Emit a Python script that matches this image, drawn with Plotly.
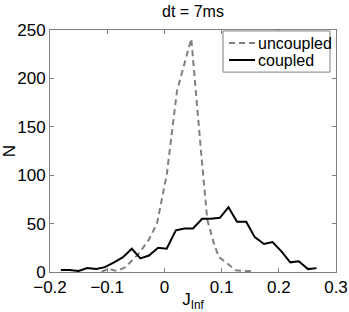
import plotly.graph_objects as go

# Data
series_names = ["uncoupled", "coupled"]

uncoupled_x = [-0.110, -0.098, -0.083, -0.068, -0.045, -0.0275, -0.013, 0.004, 0.022,
               0.047, 0.065, 0.075, 0.0865, 0.095, 0.110, 0.1245, 0.142, 0.154]
uncoupled_n = [0, 3.5, 1, 5, 19, 33, 50, 100, 187, 241, 118, 54, 29.5, 15.6, 8.7, 1.8, 1, 1]

coupled_x = [-0.181, -0.166, -0.150, -0.135, -0.119, -0.104, -0.088, -0.073, -0.057, -0.042,
             -0.027, -0.011, 0.004, 0.020, 0.035, 0.050, 0.066, 0.081, 0.097, 0.112,
             0.127, 0.143, 0.158, 0.174, 0.189, 0.205, 0.220, 0.235, 0.251, 0.266]
coupled_n = [2, 2, 1, 4, 3, 5, 10, 15, 24, 14, 17, 25, 24, 43, 45, 45, 55, 55, 56, 67,
             52, 52, 36, 29, 31, 21, 10, 11, 3, 4]

x_ticks = [-0.2, -0.1, 0, 0.1, 0.2, 0.3]
x_tick_text = ["\u22120.2", "\u22120.1", "0", "0.1", "0.2", "0.3"]
y_ticks = [0, 50, 100, 150, 200, 250]

font = "Liberation Sans, Arial, sans-serif"
styles = [dict(color="#808080", width=2, dash="6px,4px"), dict(color="black", width=2)]

fig = go.Figure()
fig.add_trace(go.Scatter(x=uncoupled_x, y=uncoupled_n, mode="lines", name=series_names[0],
                         line=styles[0]))
fig.add_trace(go.Scatter(x=coupled_x, y=coupled_n, mode="lines", name=series_names[1],
                         line=styles[1]))

axis_common = dict(showline=True, linecolor="#808080", linewidth=1, mirror="ticks",
                   ticks="inside", ticklen=4, tickcolor="#808080", showgrid=False,
                   zeroline=False, automargin=False,
                   tickfont=dict(size=17, color="black", family=font))

# Legend drawn as a box with sample lines and labels (paper coordinates)
shapes = [dict(type="rect", xref="paper", yref="paper", x0=0.605, x1=0.979, y0=0.826, y1=0.996,
               line=dict(color="#808080", width=1), fillcolor="white", layer="above")]
annotations = []
for i, (name, st) in enumerate(zip(series_names, styles)):
    yy = 0.946 - i * 0.070
    shapes.append(dict(type="line", xref="paper", yref="paper", x0=0.626, x1=0.717, y0=yy, y1=yy,
                       line=st, layer="above"))
    annotations.append(dict(text=name, xref="paper", yref="paper", x=0.722, y=yy,
                            xanchor="left", yanchor="middle", showarrow=False,
                            font=dict(size=16, color="black", family=font)))

fig.update_layout(
    width=349, height=312,
    margin=dict(l=50, r=13, t=30, b=40),
    paper_bgcolor="white", plot_bgcolor="white",
    font=dict(family=font, color="black", size=17),
    title=dict(text="dt = 7ms", x=0.553, xanchor="center", y=0.962, yanchor="middle",
               font=dict(size=16)),
    xaxis=dict(range=[-0.2, 0.3], tickvals=x_ticks, ticktext=x_tick_text,
               title=dict(text="J<sub>Inf</sub>", standoff=0, font=dict(size=17)),
               **axis_common),
    yaxis=dict(range=[0, 250], tickvals=y_ticks,
               title=dict(text="N", standoff=5, font=dict(size=17)), **axis_common),
    shapes=shapes,
    annotations=annotations,
    showlegend=False,
)

fig.write_html("out.html", config={"displayModeBar": False},
               post_script="document.body.style.margin='0';document.body.style.padding='0';")
